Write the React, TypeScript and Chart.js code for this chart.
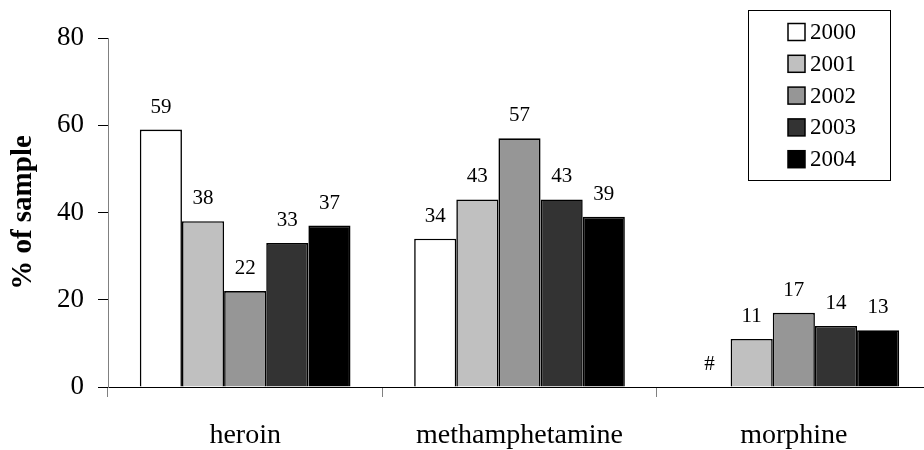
import React, { useEffect, useRef } from "react";
import { Chart, registerables } from "chart.js";

Chart.register(...registerables);

const categories = ["heroin", "methamphetamine", "morphine"];
const years = ["2000", "2001", "2002", "2003", "2004"];
const values2000: (number | null)[] = [59, 34, null];
const values2001: (number | null)[] = [38, 43, 11];
const values2002: (number | null)[] = [22, 57, 17];
const values2003: (number | null)[] = [33, 43, 14];
const values2004: (number | null)[] = [37, 39, 13];
const yTicks = [0, 20, 40, 60, 80];
const missingLabel = "#";

const seriesValues = [values2000, values2001, values2002, values2003, values2004];
const seriesColors = ["#FFFFFF", "#C0C0C0", "#969696", "#333333", "#000000"];

const FONT = "'Liberation Serif', 'Times New Roman', serif";

const labelPlugin = {
  id: "barLabels",
  afterDatasetsDraw(chart: any) {
    const ctx = chart.ctx;
    const yScale = chart.scales.y;
    ctx.save();
    ctx.font = `21px ${FONT}`;
    ctx.fillStyle = "#000";
    ctx.textAlign = "center";
    ctx.textBaseline = "alphabetic";
    chart.data.datasets.forEach((ds: any, di: number) => {
      const meta = chart.getDatasetMeta(di);
      meta.data.forEach((el: any, i: number) => {
        const v = ds.data[i];
        const text = v == null ? missingLabel : String(v);
        const top = yScale.getPixelForValue(v == null ? 0 : v);
        ctx.fillText(text, el.x, top - 17);
      });
    });
    ctx.restore();
  },
};

const legendPlugin = {
  id: "boxLegend",
  afterDraw(chart: any) {
    const ctx = chart.ctx;
    ctx.save();
    const bx = 748, by = 10, bw = 142, bh = 170;
    ctx.strokeStyle = "#000";
    ctx.lineWidth = 1;
    ctx.strokeRect(bx + 0.5, by + 0.5, bw, bh);
    ctx.font = `23px ${FONT}`;
    ctx.textAlign = "left";
    ctx.textBaseline = "middle";
    chart.data.datasets.forEach((ds: any, i: number) => {
      const cy = 32 + i * 31.8;
      ctx.fillStyle = ds.backgroundColor;
      ctx.fillRect(788, cy - 8.5, 17, 17);
      ctx.lineWidth = 1.5;
      ctx.strokeStyle = "#000";
      ctx.strokeRect(788, cy - 8.5, 17, 17);
      ctx.fillStyle = "#000";
      ctx.fillText(ds.label, 810, cy + 1);
    });
    ctx.restore();
  },
};

export default function App() {
  const ref = useRef<HTMLCanvasElement | null>(null);
  useEffect(() => {
    if (!ref.current) return;
    const chart = new Chart(ref.current, {
      type: "bar",
      data: {
        labels: categories,
        datasets: years.map((y, i) => ({
          label: y,
          data: seriesValues[i],
          backgroundColor: seriesColors[i],
          borderColor: "#000",
          borderWidth: 1.6,
          borderSkipped: "bottom",
          barPercentage: 1,
          categoryPercentage: 0.768,
        })),
      },
      options: {
        responsive: false,
        animation: false,
        layout: { padding: { left: 0, top: 38, right: 9, bottom: 0 } },
        plugins: {
          legend: { display: false },
          tooltip: { enabled: false },
        },
        scales: {
          x: {
            offset: true,
            grid: {
              offset: true,
              drawOnChartArea: false,
              drawTicks: true,
              tickLength: 10,
              color: "#808080",
              lineWidth: 1,
            },
            border: { display: true, color: "#000", width: 1 },
            ticks: {
              color: "#000",
              font: { family: FONT, size: 28 },
              padding: 22,
              maxRotation: 0,
            },
            afterFit(scale: any) {
              scale.height = 63;
            },
          },
          y: {
            min: 0,
            max: 80,
            afterBuildTicks(scale: any) {
              scale.ticks = yTicks.map((v) => ({ value: v }));
            },
            grid: {
              drawOnChartArea: false,
              drawTicks: true,
              tickLength: 10,
              color: "#000",
              lineWidth: 1,
            },
            border: { display: true, color: "#808080", width: 1 },
            ticks: {
              color: "#000",
              font: { family: FONT, size: 27 },
              padding: 14,
            },
            title: {
              display: true,
              text: "% of sample",
              color: "#000",
              font: { family: FONT, size: 29, weight: "bold" },
              padding: { top: 6, bottom: 0 },
            },
            afterFit(scale: any) {
              scale.width = 108;
            },
          },
        },
      },
      plugins: [labelPlugin, legendPlugin],
    });
    return () => chart.destroy();
  }, []);
  return (
    <div style={{ position: "fixed", left: 0, top: 0, width: 940, height: 450, background: "#fff" }}>
      <canvas ref={ref} width={940} height={450} />
    </div>
  );
}
